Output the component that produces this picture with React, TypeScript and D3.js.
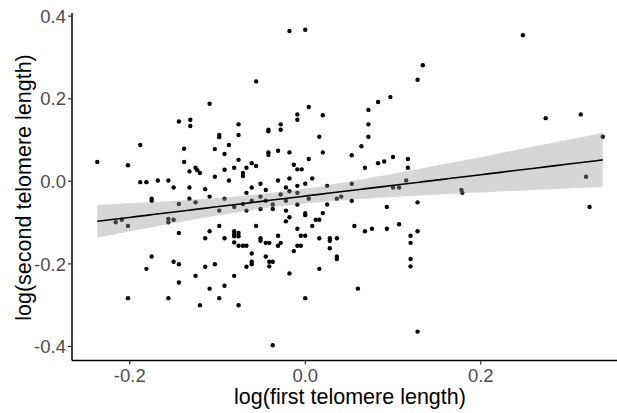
import React from "react";
import * as d3 from "d3";

// log(first telomere length)
const firstLength = [
  -0.109, -0.144, -0.131, -0.131, -0.076, -0.098, -0.098, -0.076, -0.018, 0.0,
  -0.056, 0.134, 0.128, 0.097, 0.083, 0.072, 0.072, 0.072, 0.004, 0.02,
  -0.009, -0.009, -0.028, -0.028, -0.042, -0.042, 0.016, 0.248, 0.274, 0.314,
  0.339, -0.237, -0.202, -0.188, -0.188, -0.181, -0.168, -0.156, -0.15, -0.175,
  -0.175, -0.138, -0.138, -0.132, -0.125, -0.123, -0.12, -0.132, -0.132, -0.125,
  -0.144, -0.114, -0.109, -0.103, -0.087, -0.092, -0.076, -0.092, -0.081, -0.067,
  -0.071, -0.071, -0.103, -0.087, -0.067, -0.092, -0.081, -0.098, -0.071, -0.067,
  -0.216, -0.209, -0.202, -0.156, -0.156, -0.15, -0.144, -0.114, -0.109, -0.098,
  -0.092, -0.081, -0.081, -0.081, -0.076, -0.076, -0.081, -0.076, -0.071, -0.067,
  -0.175, -0.15, -0.144, -0.181, -0.114, -0.103, -0.067, -0.202, -0.156, -0.144,
  -0.125, -0.109, -0.12, -0.098, -0.092, -0.081, -0.076, -0.042, -0.042, -0.031,
  -0.018, 0.02, 0.004, 0.053, 0.064, 0.068, 0.083, 0.09, 0.1, 0.117,
  0.117, -0.013, -0.009, -0.004, -0.061, -0.056, 0.008, -0.018, -0.031, -0.051,
  -0.061, -0.045, -0.022, -0.018, -0.009, 0.0, 0.025, 0.053, -0.009, -0.028,
  -0.051, -0.061, -0.051, -0.045, -0.037, -0.037, -0.022, -0.009, 0.004, 0.025,
  0.036, 0.041, 0.053, 0.093, 0.1, 0.107, 0.115, 0.128, -0.022, -0.018,
  -0.022, 0.0, 0.0, 0.02, 0.012, 0.016, 0.008, -0.009, -0.056, 0.056,
  0.068, 0.076, 0.093, 0.107, 0.128, 0.12, 0.12, 0.12, 0.12, -0.005,
  0.0, -0.031, -0.028, -0.031, -0.009, -0.005, -0.013, 0.016, 0.028, 0.028,
  0.028, 0.036, 0.036, 0.036, -0.051, -0.051, -0.045, -0.041, -0.061, -0.045,
  -0.041, -0.037, -0.061, -0.061, -0.041, 0.016, -0.018, 0.0, 0.06, -0.037,
  0.128, 0.32, 0.324, 0.178, 0.179,
];

// log(second telomere length), same order
const secondLength = [
  0.188, 0.145, 0.149, 0.134, 0.138, 0.112, 0.107, 0.112, 0.364, 0.367,
  0.242, 0.281, 0.246, 0.204, 0.192, 0.173, 0.138, 0.108, 0.18, 0.16,
  0.162, 0.149, 0.138, 0.125, 0.125, 0.121, 0.108, 0.354, 0.153, 0.162,
  0.108, 0.047, 0.039, 0.088, -0.002, -0.002, 0.002, 0.002, -0.015, -0.042,
  -0.047, 0.079, 0.047, 0.024, 0.033, 0.027, 0.02, -0.015, -0.042, -0.051,
  -0.055, -0.019, -0.037, 0.078, 0.088, 0.066, 0.052, 0.028, 0.033, 0.033,
  0.02, 0.013, 0.011, 0.002, -0.028, -0.042, -0.062, -0.071, -0.055, -0.071,
  -0.099, -0.093, -0.108, -0.091, -0.099, -0.093, -0.125, -0.138, -0.121, -0.108,
  -0.138, -0.121, -0.128, -0.133, -0.125, -0.133, -0.148, -0.156, -0.156, -0.156,
  -0.182, -0.195, -0.201, -0.212, -0.207, -0.201, -0.207, -0.283, -0.283, -0.245,
  -0.229, -0.26, -0.3, -0.283, -0.253, -0.229, -0.3, 0.07, 0.064, 0.074,
  0.07, 0.07, 0.054, 0.063, 0.085, 0.033, 0.044, 0.048, 0.059, 0.054,
  0.033, 0.04, 0.029, 0.029, 0.044, 0.037, 0.007, 0.007, 0.002, -0.006,
  -0.015, -0.021, -0.015, -0.024, -0.011, -0.006, -0.011, -0.006, -0.028, -0.032,
  -0.037, -0.047, -0.067, -0.047, -0.056, -0.067, -0.047, -0.056, -0.042, -0.056,
  -0.042, -0.037, -0.047, -0.062, -0.015, -0.015, 0.002, -0.051, -0.071, -0.087,
  -0.097, -0.077, -0.082, -0.077, -0.093, -0.093, -0.108, -0.115, -0.108, -0.108,
  -0.121, -0.115, -0.115, -0.104, -0.121, -0.132, -0.149, -0.188, -0.206, -0.132,
  -0.132, -0.132, -0.149, -0.156, -0.156, -0.156, -0.169, -0.138, -0.138, -0.144,
  -0.162, -0.138, -0.182, -0.188, -0.138, -0.144, -0.149, -0.149, -0.175, -0.182,
  -0.195, -0.195, -0.195, -0.201, -0.206, -0.212, -0.223, -0.283, -0.26, -0.397,
  -0.364, 0.011, -0.062, -0.021, -0.028,
];

const xTicks = [-0.2, 0.0, 0.2];
const yTicks = [-0.4, -0.2, 0.0, 0.2, 0.4];
const xTitle = "log(first telomere length)";
const yTitle = "log(second telomere length)";

const W = 617;
const H = 413;
const FONT = "'Liberation Sans', Arial, sans-serif";

function expand(ext: [number, number], f = 0.05): [number, number] {
  const d = (ext[1] - ext[0]) * f;
  return [ext[0] - d, ext[1] + d];
}

export default function App() {
  const pts = firstLength.map((x, i) => ({ x, y: secondLength[i] }));

  const x = d3
    .scaleLinear()
    .domain(expand(d3.extent(firstLength) as [number, number]))
    .range([72, 628]);
  const y = d3
    .scaleLinear()
    .domain(expand(d3.extent(secondLength) as [number, number]))
    .range([361, 14]);

  // linear fit with 95% confidence band (like geom_smooth(method = "lm"))
  const n = pts.length;
  const mx = d3.mean(firstLength)!;
  const my = d3.mean(secondLength)!;
  const sxx = d3.sum(pts, (p) => (p.x - mx) ** 2);
  const sxy = d3.sum(pts, (p) => (p.x - mx) * (p.y - my));
  const b = sxy / sxx;
  const a = my - b * mx;
  const sse = d3.sum(pts, (p) => (p.y - a - b * p.x) ** 2);
  const s = Math.sqrt(sse / (n - 2));
  const t = 1.971;
  const [x0, x1] = d3.extent(firstLength) as [number, number];
  const grid = d3.range(80).map((i) => x0 + ((x1 - x0) * i) / 79);
  const fit = grid.map((gx) => {
    const se = s * Math.sqrt(1 / n + (gx - mx) ** 2 / sxx);
    const yh = a + b * gx;
    return { x: gx, y: yh, lo: yh - t * se, hi: yh + t * se };
  });

  const band = d3
    .area<{ x: number; lo: number; hi: number }>()
    .x((d) => x(d.x))
    .y0((d) => y(d.lo))
    .y1((d) => y(d.hi));
  const line = d3
    .line<{ x: number; y: number }>()
    .x((d) => x(d.x))
    .y((d) => y(d.y));

  const left = x.range()[0];
  const bottom = 360.5;
  const fmt = (v: number) => d3.format(".1f")(v).replace("\u2212", "-");

  return (
    <svg
      width={W}
      height={H}
      style={{ position: "absolute", left: 0, top: 0, background: "#fff" }}
      fontFamily={FONT}
    >
      <g>
        {pts.map((p, i) => (
          <circle key={i} cx={x(p.x)} cy={y(p.y)} r={2.2} fill="#000" />
        ))}
      </g>
      <path d={band(fit) || ""} fill="#999999" fillOpacity={0.4} />
      <path d={line(fit) || ""} fill="none" stroke="#000" strokeWidth={1.6} />

      {/* y axis */}
      <line x1={left} x2={left} y1={13} y2={bottom} stroke="#000" strokeWidth={1.5} />
      {yTicks.map((v) => (
        <g key={v} transform={`translate(0,${y(v)})`}>
          <line x1={left - 4} x2={left} stroke="#333" strokeWidth={1.2} />
          <text x={left - 6} dy="0.36em" textAnchor="end" fontSize={18.5} fill="#4d4d4d">
            {fmt(v)}
          </text>
        </g>
      ))}

      {/* x axis */}
      <line x1={left} x2={W} y1={bottom} y2={bottom} stroke="#000" strokeWidth={1.5} />
      {xTicks.map((v) => (
        <g key={v} transform={`translate(${x(v)},${bottom})`}>
          <line y1={0} y2={4} stroke="#333" strokeWidth={1.2} />
          <text y={21.5} textAnchor="middle" fontSize={18.5} fill="#4d4d4d">
            {fmt(v)}
          </text>
        </g>
      ))}

      <text
        x={(x.range()[0] + x.range()[1]) / 2}
        y={404}
        textAnchor="middle"
        fontSize={21.5}
        fill="#000"
      >
        {xTitle}
      </text>
      <text
        transform={`translate(31,${(y.range()[0] + y.range()[1]) / 2}) rotate(-90)`}
        textAnchor="middle"
        fontSize={21.5}
        fill="#000"
      >
        {yTitle}
      </text>
    </svg>
  );
}
